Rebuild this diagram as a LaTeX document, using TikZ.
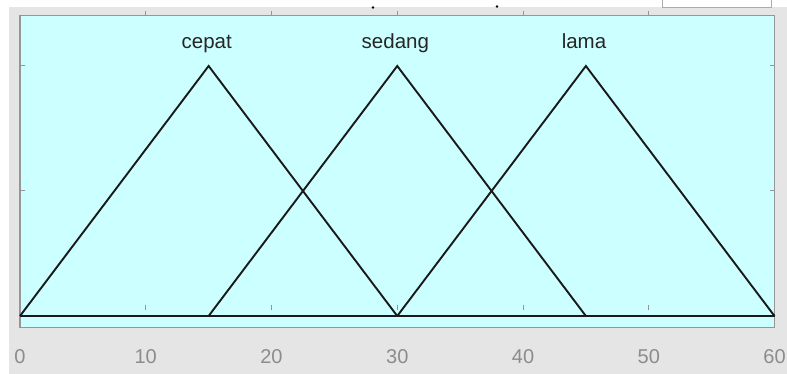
\documentclass[tikz,border=0pt]{standalone}
\usepackage{fontspec}
\setmainfont{Liberation Sans}
\definecolor{panelgray}{RGB}{229,229,229}
\definecolor{axcyan}{RGB}{204,255,255}
\definecolor{axborder}{RGB}{150,150,150}
\definecolor{ticklab}{RGB}{140,140,140}
\definecolor{mfline}{RGB}{25,25,25}
\tikzset{
  mfcurve/.style={draw=mfline, line width=1.9pt, line join=miter},
  axframe/.style={draw=axborder, line width=1.4pt, fill=axcyan},
  tickmark/.style={draw=axborder, line width=1pt},
  mflabel/.style={font=\fontsize{20.5}{22}\selectfont, text=black!85, inner sep=0pt, anchor=base},
  ticklabel/.style={font=\fontsize{20}{22}\selectfont, text=ticklab, inner sep=0pt, anchor=base},
}
\begin{document}
\begin{tikzpicture}[x=1pt,y=1pt]
\useasboundingbox (0,0) rectangle (787,-374);
% window background
\fill[white] (0,0) rectangle (787,-374);
\fill[panelgray] (9,-7) rectangle (787,-374);
% partial box at top right and slider marks
\draw[draw=axborder!80, fill=white, line width=1pt] (662,4) rectangle (771,-8);
\fill[black] (373,-7.5) circle (1.3);
\fill[black] (497,-6.5) circle (1.3);
% axes
\draw[axframe] (20,-15.5) rectangle (774.5,-327.5);
\begin{scope}[shift={(20,-316)}, x=12.575pt, y=250pt]
  \coordinate (o) at (0,0);
  % ticks
  \foreach \t in {10,20,30,40,50} {
    \draw[tickmark] (\t,0.0454) -- ++(0,-5pt);
    \draw[tickmark] (\t,1.2) -- ++(0,5pt);
  }
  \foreach \v in {0,0.5,1} {
    \draw[tickmark] (0,\v) -- ++(5pt,0);
    \draw[tickmark] (60,\v) -- ++(-5pt,0);
  }
  % membership functions
  \coordinate (c0) at (0,0);  \coordinate (c1) at (15,1);  \coordinate (c2) at (30,0);
  \coordinate (s0) at (15,0); \coordinate (s1) at (30,1);  \coordinate (s2) at (45,0);
  \coordinate (l0) at (30,0); \coordinate (l1) at (45,1);  \coordinate (l2) at (60,0);
  \draw[mfcurve] (c0) -- (c1) -- (c2);
  \draw[mfcurve] (s0) -- (s1) -- (s2);
  \draw[mfcurve] (l0) -- (l1) -- (l2);
  \draw[mfcurve] (c0) -- (l2);
  % labels
  \node[mflabel] (lc) at (14.85,1.068) {cepat};
  \node[mflabel] (ls) at (29.85,1.068) {sedang};
  \node[mflabel] (ll) at (44.85,1.068) {lama};
  % tick labels
  \foreach \t in {0,10,20,30,40,50,60} {
    \node[ticklabel] at (\t,-0.188) {\t};
  }
\end{scope}
\end{tikzpicture}
\end{document}
